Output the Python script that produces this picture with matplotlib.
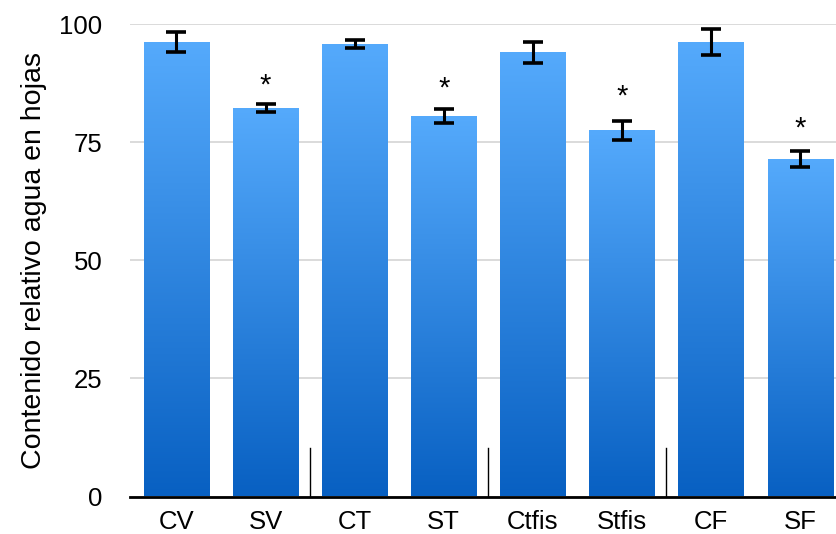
import numpy as np
import matplotlib
matplotlib.use("Agg")
from matplotlib import pyplot as plt
from matplotlib.colors import LinearSegmentedColormap

# valores
categorias = ["CV", "SV", "CT", "ST", "Ctfis", "Stfis", "CF", "SF"]
medias = [96.2, 82.3, 95.8, 80.6, 94.1, 77.6, 96.2, 71.4]
errores = [2.1, 0.9, 0.9, 1.5, 2.2, 2.0, 2.8, 1.7]
significativo = [False, True, False, True, False, True, False, True]
altura_asterisco = [None, 87.1, None, 86.4, None, 84.6, None, 78.0]
separadores = [1.5, 3.5, 5.5]
altura_separador = 10.3

plt.rcParams["font.family"] = ["Liberation Sans", "DejaVu Sans"]

fig = plt.figure(figsize=(8.37, 5.34), dpi=100)
ax = fig.add_axes([130 / 837, 1 - 496.5 / 534, (837 - 130) / 837, (496.5 - 24.3) / 534])

x = np.arange(len(categorias))
ancho = 0.73
degradado = LinearSegmentedColormap.from_list("azul", ["#0860c2", "#55aafc"])
grad = np.linspace(0, 1, 256).reshape(-1, 1)

barras = ax.bar(x, medias, width=ancho, color="none", edgecolor="none", zorder=2)
for b in barras:
    im = ax.imshow(grad, cmap=degradado, origin="lower", aspect="auto",
                   extent=[b.get_x(), b.get_x() + b.get_width(), 0, b.get_height()],
                   zorder=2)
    im.set_clip_path(b)

ax.errorbar(x, medias, yerr=errores, fmt="none", ecolor="black", elinewidth=2.2,
            capsize=7, capthick=2.6, zorder=3)

for i, sig in enumerate(significativo):
    if sig:
        ax.text(x[i], altura_asterisco[i], "*", ha="center", va="center",
                fontsize=21, color="black", zorder=4)

for s in separadores:
    ax.plot([s, s], [0, altura_separador], color="black", lw=1, zorder=3)

ax.set_xlim(-0.522, 7.415)
ax.set_ylim(0, 100)
ax.set_yticks([0, 25, 50, 75, 100])
ax.set_xticks(x)
ax.set_xticklabels(categorias)
ax.yaxis.grid(True, color="#d4d4d4", lw=1.2, zorder=0)
ax.set_axisbelow(True)
for lado in ["top", "right", "left"]:
    ax.spines[lado].set_visible(False)
ax.spines["bottom"].set_linewidth(2)
ax.spines["bottom"].set_zorder(5)
ax.tick_params(axis="both", length=0, labelsize=18.5, colors="black")
ax.tick_params(axis="y", pad=20)
ax.tick_params(axis="x", pad=9.5)
ax.set_ylabel("Contenido relativo agua en hojas", fontsize=20.5, labelpad=9)

fig.savefig("out.png", dpi=100)
